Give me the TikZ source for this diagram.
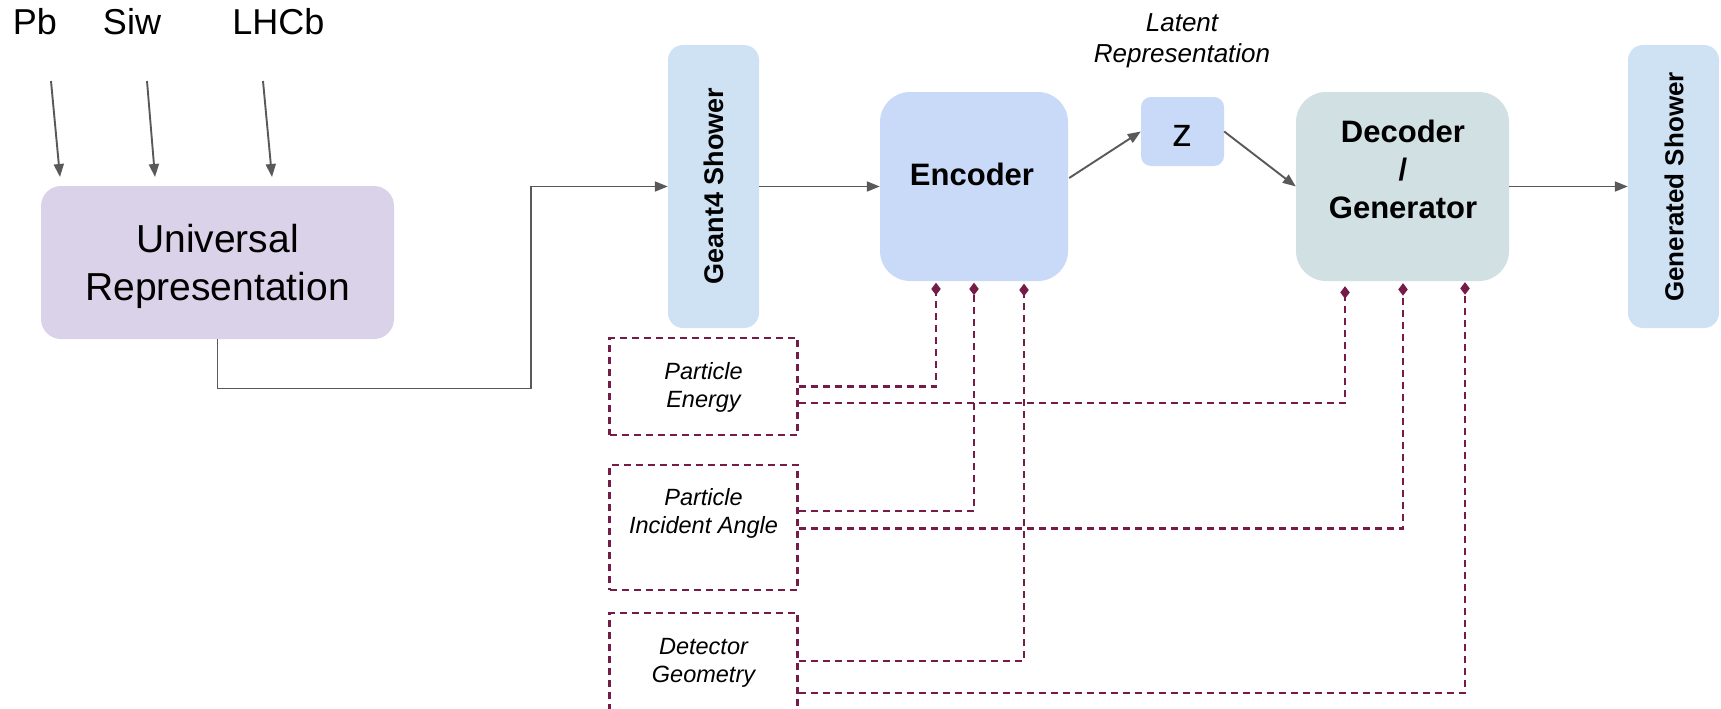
\documentclass[tikz,border=0pt]{standalone}
\usepackage{fontspec}
\setmainfont{Liberation Sans}
\usetikzlibrary{arrows.meta,calc}
\definecolor{univfill}{HTML}{D9D2E9}
\definecolor{showerfill}{HTML}{CFE2F3}
\definecolor{codecfill}{HTML}{C9DAF8}
\definecolor{decfill}{HTML}{D0E0E3}
\definecolor{flowgray}{HTML}{595959}
\definecolor{condred}{HTML}{741B47}
\newcommand\fsz[2]{\fontsize{#1}{#2}\selectfont}
\tikzset{
  blk/.style={rectangle, draw=none, inner sep=0pt},
  txt/.style={inner sep=0pt, align=center},
  flow/.style={draw=flowgray, line width=1.9pt, -{Triangle[length=13pt,width=10pt]}},
  cond/.style={draw=condred, line width=2.2pt, dash pattern=on 7pt off 5pt,
               -{Diamond[length=12.5pt,width=9.5pt]}},
  condbox/.style={rectangle, draw=condred, line width=2.2pt, dash pattern=on 7pt off 5pt,
                  minimum width=188pt, inner sep=0pt},
}
\begin{document}
\begin{tikzpicture}[x=1pt,y=-1pt]
\useasboundingbox (0,0) rectangle (1721,709);

% detector inputs
\node[txt, font=\fsz{36}{43}, anchor=base] (pb) at (35,35) {Pb};
\node[txt, font=\fsz{36}{43}, anchor=base] (siw) at (132,35) {Siw};
\node[txt, font=\fsz{36}{43}, anchor=base] (lhcb) at (278.5,35) {LHCb};
\coordinate (pb-a) at (51,81);    \coordinate (pb-b) at (60,177);
\coordinate (siw-a) at (147,81);  \coordinate (siw-b) at (155,177);
\coordinate (lhcb-a) at (263,81); \coordinate (lhcb-b) at (272,177);
\draw[flow] (pb-a) -- (pb-b);
\draw[flow] (siw-a) -- (siw-b);
\draw[flow] (lhcb-a) -- (lhcb-b);

% universal representation (multi-line text is anchored on its last baseline)
\node[blk, fill=univfill, rounded corners=20pt, minimum width=353pt, minimum height=153pt] (univ) at (217.5,262.5) {};
\node[txt, font=\fsz{39}{48}, anchor=base] (univ-t) at (217.5,300) {Universal\\Representation};

% Geant4 shower
\node[blk, fill=showerfill, rounded corners=15pt, minimum width=91pt, minimum height=283pt] (geant) at (713.5,186.5) {};
\node[txt, font=\bfseries\fsz{27}{32}, rotate=90] (geant-t) at (714,186) {Geant4 Shower};

% encoder
\node[blk, fill=codecfill, rounded corners=30pt, minimum width=188pt, minimum height=189pt] (enc) at (974,186.5) {};
\node[txt, font=\bfseries\fsz{31}{38}, anchor=base] (enc-t) at (972,185) {Encoder};

% latent space
\node[txt, font=\itshape\fsz{26}{31}, anchor=base] (lat) at (1182,63) {Latent\\Representation};
\node[blk, fill=codecfill, rounded corners=10pt, minimum width=83pt, minimum height=69pt] (z) at (1182.5,131.5) {};
\node[txt, font=\fsz{40}{48}, anchor=base] (z-t) at (1182,146.5) {z};

% decoder / generator
\node[blk, fill=decfill, rounded corners=30pt, minimum width=213pt, minimum height=189pt] (dec) at (1402.5,186.5) {};
\node[txt, font=\bfseries\fsz{31}{38}, anchor=base] (dec-t) at (1403,218) {Decoder\\/\\Generator};

% generated shower
\node[blk, fill=showerfill, rounded corners=15pt, minimum width=91pt, minimum height=283pt] (gen) at (1673.5,186.5) {};
\node[txt, font=\bfseries\fsz{26}{30}, rotate=90] (gen-t) at (1674,187) {Generated Shower};

% conditioning inputs
\node[condbox, minimum height=97pt] (pe) at (703.5,386.5) {};
\node[condbox, minimum height=125pt] (pia) at (703.5,527.5) {};
\node[condbox, minimum height=97pt] (dg) at (703.5,661.5) {};
\node[txt, font=\itshape\fsz{23.5}{28}, anchor=base] (pe-t) at (703.5,407) {Particle\\Energy};
\node[txt, font=\itshape\fsz{23.5}{28}, anchor=base] (pia-t) at (703.5,533) {Particle\\Incident Angle};
\node[txt, font=\itshape\fsz{23.5}{28}, anchor=base] (dg-t) at (703.5,682) {Detector\\Geometry};

% main data flow
\coordinate (bend) at (531,388.5);
\draw[flow] (univ.south) |- (bend) |- (geant.west);
\draw[flow] (geant.east) -- (enc.west);
\draw[flow] ($(enc.east)+(1,-8.5)$) -- (z.west);
\draw[flow] (z.east) -- (dec.west);
\draw[flow] (dec.east) -- (gen.west);

% conditioning links
\draw[cond] (pe.east) -| ($(enc.south)+(-38,1.5)$);
\draw[cond] ($(pe.east)+(0,16.5)$) -| ($(dec.south)+(-57.5,5)$);
\draw[cond] ($(pia.east)+(0,-16.5)$) -| ($(enc.south)+(0,1.5)$);
\draw[cond] ($(pia.east)+(0,1)$) -| ($(dec.south)+(0.5,2)$);
\draw[cond] ($(dg.east)+(0,-0.5)$) -| ($(enc.south)+(50,2.5)$);
\draw[cond] ($(dg.east)+(0,31.5)$) -| ($(dec.south)+(62.5,1)$);
\end{tikzpicture}
\end{document}
